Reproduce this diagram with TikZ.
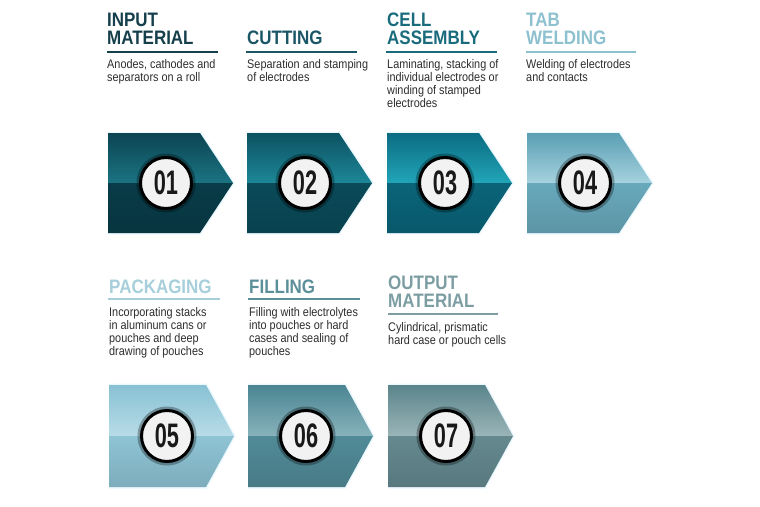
\documentclass[tikz,border=0pt]{standalone}
\usepackage{fontspec}
\usetikzlibrary{fadings}
\newfontfamily\condfont[FakeStretch=0.87]{Liberation Sans}
\newfontfamily\numfont[FakeStretch=0.64]{Liberation Sans Bold}
\definecolor{a1t}{HTML}{0B4452}\definecolor{a1m}{HTML}{1B7483}\definecolor{a1b}{HTML}{083C48}
\definecolor{a2t}{HTML}{0C5262}\definecolor{a2m}{HTML}{1D8797}\definecolor{a2b}{HTML}{0A4A59}
\definecolor{a3t}{HTML}{0B6C82}\definecolor{a3m}{HTML}{22A5B8}\definecolor{a3b}{HTML}{0A6479}
\definecolor{a4t}{HTML}{5A9FB4}\definecolor{a4m}{HTML}{A6D2DE}\definecolor{a4b}{HTML}{68A9BC}
\definecolor{a5t}{HTML}{88C1D3}\definecolor{a5m}{HTML}{B8DCE7}\definecolor{a5b}{HTML}{8EC4D5}
\definecolor{a6t}{HTML}{4A8592}\definecolor{a6m}{HTML}{88B3BC}\definecolor{a6b}{HTML}{518B98}
\definecolor{a7t}{HTML}{5A858B}\definecolor{a7m}{HTML}{9BB5B8}\definecolor{a7b}{HTML}{64898F}
\definecolor{t1}{HTML}{163F4C}\definecolor{t2}{HTML}{1A5666}\definecolor{t3}{HTML}{1A6B7C}
\definecolor{t4}{HTML}{8EC1CF}\definecolor{t5}{HTML}{A7CFDB}\definecolor{t6}{HTML}{5B8F99}
\definecolor{t7}{HTML}{7C9EA3}\definecolor{disc}{HTML}{F2F2F2}\definecolor{desc}{HTML}{2E2E2E}
\tikzfading[name=vfade, top color=transparent!100, middle color=transparent!0, bottom color=transparent!100]
\tikzset{
  ttl/.style={anchor=base west, inner sep=0pt, font=\condfont\bfseries\fontsize{19.5}{18}\selectfont},
  dsc/.style={anchor=base west, inner sep=0pt, text=desc, font=\condfont\fontsize{12.5}{13.3}\selectfont},
  uline/.style={draw=#1, line width=1.8pt},
  numdisc/.style={circle, fill=disc, draw=black, line width=3pt, minimum size=51pt, inner sep=0pt,
    text=black!90, font=\numfont\fontsize{34}{34}\selectfont}
}
% #1 name, #2 left, #3 top, #4 body length, #5 height, #6 colour prefix, #7 number
\newcommand\stepshape[7]{%
  \pgfmathsetmacro\sxb{#2+#4}%
  \pgfmathsetmacro\sxt{#2+125}%
  \pgfmathsetmacro\sym{#3+#5/2}%
  \pgfmathsetmacro\syb{#3+#5}%
  \shade[left color=white, right color=black!12, path fading=vfade] (#2-8,#3-24) rectangle (#2,\syb+18);
  \draw[white!92!cyan, line width=3pt, line join=miter] (#2,#3) -- (\sxb,#3) -- (\sxt,\sym) -- (\sxb,\syb) -- (#2,\syb);
  \shade[top color=#6t, bottom color=#6m] (#2,#3) -- (\sxb,#3) -- (\sxt,\sym) -- (#2,\sym) -- cycle;
  \shade[top color=#6b, bottom color=#6b!88!black] (#2,\sym) -- (\sxt,\sym) -- (\sxb,\syb) -- (#2,\syb) -- cycle;
  \fill[black, opacity=.3] (#2+58,\sym) circle (29.5);
  \node[numdisc] (#1) at (#2+58,\sym) {#7};
}
\begin{document}
\begin{tikzpicture}[x=1pt, y=-1pt]
\useasboundingbox[fill=white] (0,0) rectangle (760,506);
% row 1 arrows
\stepshape{n1}{108}{133}{92}{100}{a1}{01}
\stepshape{n2}{247}{133}{92}{100}{a2}{02}
\stepshape{n3}{387}{133}{92}{100}{a3}{03}
\stepshape{n4}{527}{133}{92}{100}{a4}{04}
% row 2 arrows
\stepshape{n5}{109}{385}{97}{102}{a5}{05}
\stepshape{n6}{248}{385}{97}{102}{a6}{06}
\stepshape{n7}{388}{385}{97}{102}{a7}{07}
% row 1 texts
\node[ttl, text=t1] (h1) at (107,26) {\parbox[t]{140pt}{INPUT\\MATERIAL}};
\draw[uline=t1] (107,52) -- (218,52);
\node[dsc] (d1) at (107,68) {\parbox[t]{140pt}{Anodes, cathodes and\\separators on a roll}};
\node[ttl, text=t2] (h2) at (247,44) {CUTTING};
\draw[uline=t2] (246,52) -- (357,52);
\node[dsc] (d2) at (247,68) {\parbox[t]{140pt}{Separation and stamping\\of electrodes}};
\node[ttl, text=t3] (h3) at (387,26) {\parbox[t]{140pt}{CELL\\ASSEMBLY}};
\draw[uline=t3] (386,52) -- (497,52);
\node[dsc] (d3) at (387,68) {\parbox[t]{140pt}{Laminating, stacking of\\individual electrodes or\\winding of stamped\\electrodes}};
\node[ttl, text=t4] (h4) at (526,26) {\parbox[t]{140pt}{TAB\\WELDING}};
\draw[uline=t4] (526,52) -- (636,52);
\node[dsc] (d4) at (526,68) {\parbox[t]{140pt}{Welding of electrodes\\and contacts}};
% row 2 texts
\node[ttl, text=t5] (h5) at (109,293) {PACKAGING};
\draw[uline=t5] (108,299) -- (220,299);
\node[dsc] (d5) at (109,316) {\parbox[t]{140pt}{Incorporating stacks\\in aluminum cans or\\pouches and deep\\drawing of pouches}};
\node[ttl, text=t6] (h6) at (249,293) {FILLING};
\draw[uline=t6] (248,299) -- (360,299);
\node[dsc] (d6) at (249,316) {\parbox[t]{140pt}{Filling with electrolytes\\into pouches or hard\\cases and sealing of\\pouches}};
\node[ttl, text=t7] (h7) at (388,289) {\parbox[t]{140pt}{OUTPUT\\MATERIAL}};
\draw[uline=t7] (388,314) -- (498,314);
\node[dsc] (d7) at (388,331) {\parbox[t]{140pt}{Cylindrical, prismatic\\hard case or pouch cells}};
\end{tikzpicture}
\end{document}
